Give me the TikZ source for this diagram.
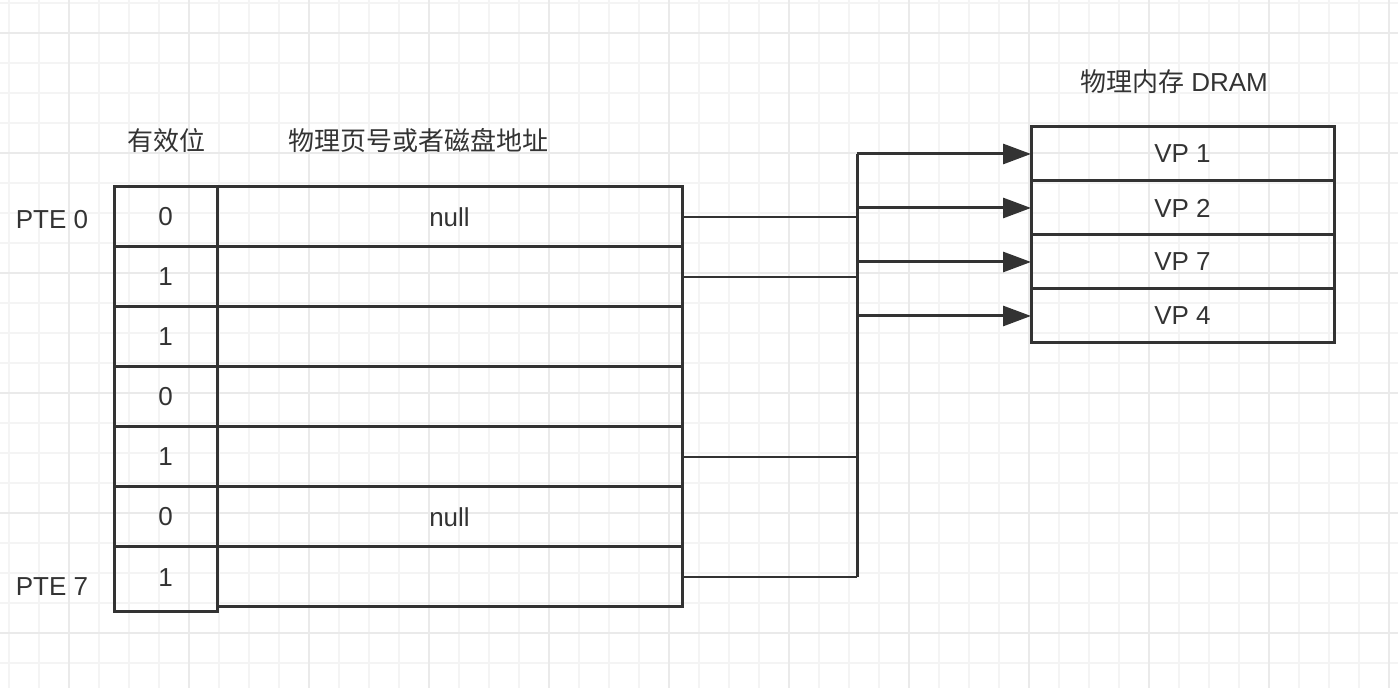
\documentclass[tikz,border=0pt]{standalone}
\usepackage{fontspec}
\setmainfont{Liberation Sans}
\newfontfamily\cjk{Noto Sans CJK SC}
\usetikzlibrary{arrows.meta}
\definecolor{ink}{HTML}{333333}
\definecolor{gridminor}{HTML}{F4F4F4}
\definecolor{gridmajor}{HTML}{EAEAEA}

\begin{document}
\begin{tikzpicture}[x=0.5pt,y=-0.5pt,>={Triangle[length=14pt,width=10pt]},
        every node/.style={text=ink,font=\fontsize{13}{15}\selectfont},
        cjktext/.style={font=\cjk\fontsize{13}{15}\selectfont},
        cell/.style={draw=ink,line width=1.5pt,minimum height=30pt,inner sep=0pt,outer sep=0pt},
        bit/.style={cell,minimum width=51.5pt},
        addr/.style={cell,minimum width=232.5pt},
        page/.style={cell,minimum width=151.5pt,minimum height=27pt},
        feed/.style={draw=ink,line width=1.2pt},
        bus/.style={draw=ink,line width=1.5pt}]
        \useasboundingbox (0,0) rectangle (1398,688);
        % grid paper
        \foreach \x in {9,39,...,1389} \draw[gridminor,line width=1pt] (\x,0) -- (\x,688);
        \foreach \y in {3,33,...,663} \draw[gridminor,line width=1pt] (0,\y) -- (1398,\y);
        \foreach \x in {69,189,...,1389} \draw[gridmajor,line width=1pt] (\x,0) -- (\x,688);
        \foreach \y in {33,153,...,633} \draw[gridmajor,line width=1pt] (0,\y) -- (1398,\y);

        \node[cjktext] (validhead) at (166,141) {有效位};
        \node[cjktext] (addrhead) at (418,141) {物理页号或者磁盘地址};
        \node (dramhead) at (1174,82) {{\cjk 物理内存} DRAM};

        \foreach \i/\v/\a in {0/0/null,1/1/{},2/1/{},3/0/{},4/1/{},5/0/null}{
            \node[bit] (bit\i) at (165.5,217+60*\i) {\v};
            \node[addr] (addr\i) at (449.5,217+60*\i) {\a};
        }
        \node[bit,minimum height=32.5pt,anchor=north,text depth=2pt] (bit6) at (165.5,547) {1};
        \node[addr] (addr6) at (449.5,577) {};

        \node (pte0) at (52,220) {PTE 0};
        \node (pte7) at (52,587) {PTE 7};

        \foreach \i/\t in {1/1,2/2,3/7,4/4}
            \node[page] (vp\i) at (1182.5,100+54*\i) {VP \t};

        \coordinate (bus) at (857,154);
        \draw[bus] (vp1.west -| bus) -- (addr6.east -| bus);
        \foreach \i in {0,1,4,6} \draw[feed] (addr\i.east) -- (addr\i.east -| bus);
        \foreach \i in {1,...,4} \draw[bus,->] (vp\i.west -| bus) -- (vp\i.west);
\end{tikzpicture}
\end{document}
